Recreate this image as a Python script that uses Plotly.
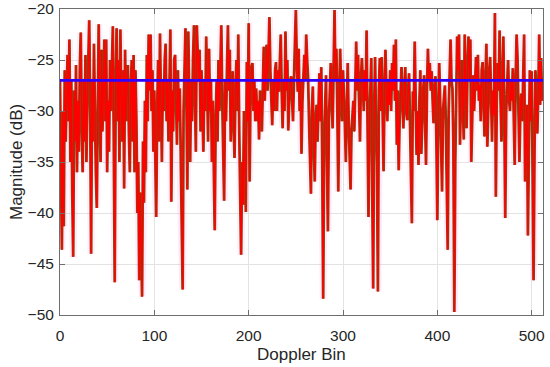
import plotly.graph_objects as go

# Doppler bin index (category axis)
doppler_bins = list(range(512))

# Magnitude per Doppler bin (dB)
magnitude_db = [
    -27, -33, -43.6, -30, -41.3, -26, -33, -29, -24.5, -31, -23, -35, -27, -38, -44.3, -28,
    -33, -25.5, -36, -29, -34, -26, -22.3, -31, -36, -27, -33, -24.5, -35, -29, -25, -21.1,
    -30, -44, -27, -33, -23.4, -31, -36, -39.5, -26, -21.5, -29, -35, -24, -32, -28, -23,
    -31, -23, -36, -29, -34, -25, -30, -26, -21.7, -33, -46.8, -28, -21.9, -31, -25, -35,
    -22, -29, -33, -26, -37.6, -24, -31, -27, -25.5, -32, -36, -28, -25, -33, -24.5, -36,
    -26, -31, -40, -35, -46.6, -38, -42, -48.2, -33, -39, -29, -36, -24.5, -31, -22.5, -28,
    -22.5, -30, -26, -34, -28, -37, -40.4, -30, -25, -33, -22.4, -29, -35, -27, -30, -25,
    -23.4, -31, -27, -33, -26, -22, -38.9, -28, -32, -25, -24.5, -30, -33.3, -26, -31, -27.8,
    -35, -40, -47.5, -30, -25, -21.9, -29, -37.7, -22.2, -30, -35, -27, -31, -25, -21.6, -28,
    -34, -21.6, -26, -27.1, -24, -32, -26, -29, -34, -27, -30, -22.7, -29, -33, -23.9, -30,
    -27, -35, -29, -37, -41.7, -31, -27.1, -33, -25, -30, -24, -21.6, -29, -33, -38.8, -27,
    -31, -26, -21.6, -28, -24, -33, -29, -26.1, -31, -34.6, -28, -25, -30, -22.5, -32, -38,
    -44.1, -35, -39.2, -30, -36, -39.9, -25.2, -31, -21.4, -36.9, -28, -25.7, -25.3, -30, -27, -31,
    -27.8, -31, -29, -32.8, -28, -29.4, -32, -26, -23.7, -29, -26, -23.5, -28, -25, -20.8, -26.1,
    -29, -31.4, -27, -30, -26, -25.2, -30, -26, -28.1, -25, -22.5, -28, -31.7, -27, -30, -22.2,
    -28, -25, -31.9, -29, -27, -26.6, -30, -31, -27, -24, -20.1, -25, -28.1, -23.9, -30, -27,
    -34.2, -29, -26, -24.5, -27, -22.5, -25, -26.8, -31, -35, -38.1, -30, -27.6, -33, -36.9, -31,
    -29.4, -33, -30, -26.3, -31, -25.7, -35, -48.4, -33, -29, -26.5, -35, -41.8, -31, -28, -25.3,
    -29, -31.7, -26, -20.1, -27, -23.9, -30, -37.9, -29, -23.9, -28, -31, -26, -27.8, -31, -35,
    -28, -25.3, -31, -34, -37.7, -32, -30.9, -29, -32, -27, -23.2, -28, -24.5, -29, -33, -27,
    -24.8, -27, -30, -26, -29, -22.1, -33, -40.4, -31, -27, -24.8, -38, -47.4, -30, -24.7, -31,
    -35, -47.7, -28, -24.8, -30, -24.7, -29, -35.9, -28, -24, -28, -31, -27, -29.4, -26, -30,
    -25.3, -28, -23.5, -29, -23, -33.3, -28, -35.8, -31, -27, -25.7, -29, -31.7, -28, -25.7, -30,
    -30.9, -28, -26.3, -31, -36, -41, -28.1, -30, -23.2, -29, -34.3, -30, -35.3, -29, -26, -34.2,
    -30, -28, -26.5, -31, -35.3, -28, -23.9, -27, -25.3, -28, -26.1, -29, -31.2, -28, -26.6, -33,
    -40.7, -30, -25.3, -29, -33, -37.9, -30, -28, -27.5, -31, -36, -43.6, -30, -26, -23, -27,
    -27.8, -33, -49.7, -35, -26, -22.7, -26, -22.5, -33.3, -28, -25, -29, -32.8, -22.5, -27, -31.7,
    -26, -22.7, -27, -23, -35, -29, -26.5, -30, -27, -24.7, -28, -24.5, -29, -27.5, -31, -26,
    -25.2, -29, -32.5, -27, -23.4, -33.5, -29, -26, -24.7, -30, -33, -28, -30.4, -20.4, -38.4, -29,
    -25.3, -28, -22.1, -29, -33, -27, -22.7, -31, -40.5, -30, -27, -25, -28.8, -30, -27, -29,
    -25.8, -30, -35.3, -27, -22.5, -24.8, -30, -35, -30, -28.3, -31, -26, -22.5, -36.9, -32, -29.4,
    -42.2, -30, -26, -31, -26.1, -36, -46.6, -34, -26, -29, -32.2, -28, -22.5, -29.4, -24.8, -29,
]

threshold_db = -27
x_range = [0, 512]
y_range = [-50, -20]
x_ticks = [0, 100, 200, 300, 400, 500]
y_ticks = [-50, -45, -40, -35, -30, -25, -20]

FONT = "Arial, Liberation Sans, sans-serif"
TXT = "#262626"

fig = go.Figure()

# soft pink halo
fig.add_trace(go.Scatter(
    x=doppler_bins, y=magnitude_db, mode="lines",
    line=dict(color="rgba(255,140,230,0.18)", width=7),
    hoverinfo="skip", showlegend=False,
))
# brown trace (underneath, wider)
fig.add_trace(go.Scatter(
    x=doppler_bins, y=magnitude_db, mode="lines",
    line=dict(color="rgb(140,70,20)", width=2.8),
    showlegend=False,
))
# red trace on top
fig.add_trace(go.Scatter(
    x=doppler_bins, y=magnitude_db, mode="lines",
    line=dict(color="#ff0000", width=1.3),
    showlegend=False,
))
# threshold line
fig.add_trace(go.Scatter(
    x=x_range, y=[threshold_db, threshold_db], mode="lines",
    line=dict(color="rgb(50,0,255)", width=2.6),
    showlegend=False,
))

axis_common = dict(
    showline=True, linecolor="#6e6e6e", linewidth=1, mirror="ticks",
    ticks="inside", ticklen=5, tickcolor="#6e6e6e",
    showgrid=True, gridcolor="#e3e3e3", gridwidth=1,
    zeroline=False, automargin=False,
    tickfont=dict(family=FONT, size=15.5, color=TXT),
)

fig.update_xaxes(range=x_range, tickvals=x_ticks, ticklabelstandoff=6, **axis_common)
fig.update_yaxes(range=y_range, tickvals=y_ticks, ticklabelstandoff=2, **axis_common)

fig.update_layout(
    width=550, height=367,
    margin=dict(l=60, r=7, t=9, b=52),
    paper_bgcolor="white", plot_bgcolor="white",
    showlegend=False,
    annotations=[
        dict(text="Doppler Bin", xref="paper", yref="paper", x=0.5, y=0,
             yshift=-39, xanchor="center", yanchor="middle", showarrow=False,
             font=dict(family=FONT, size=17, color=TXT)),
        dict(text="Magnitude (dB)", xref="paper", yref="paper", x=0, y=0.5,
             xshift=-44, xanchor="center", yanchor="middle", textangle=-90,
             showarrow=False, font=dict(family=FONT, size=17, color=TXT)),
    ],
)

fig.write_html(
    "out.html",
    config={"displayModeBar": False},
    post_script="document.body.style.margin='0';",
)
